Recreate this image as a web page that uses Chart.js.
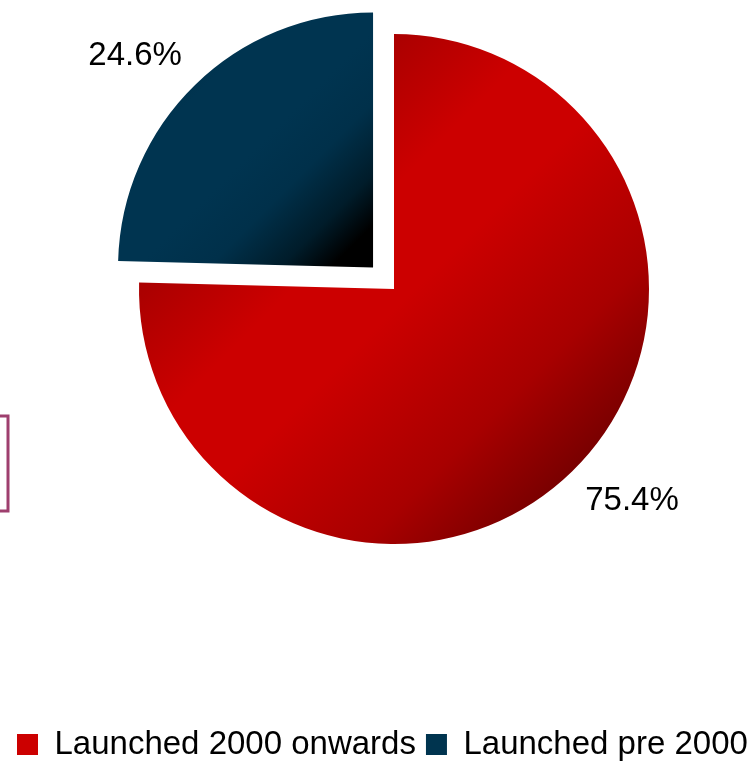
<!DOCTYPE html>
<html>
<head>
<meta charset="utf-8">
<title>Launch period share</title>
<script src="https://cdn.jsdelivr.net/npm/chart.js@4/dist/chart.umd.min.js"></script>
<style>
    html, body { margin: 0; padding: 0; background: #fff; overflow: hidden; }
    body { width: 754px; height: 762px; position: relative; }
    #shareChart { position: absolute; left: 0; top: -140px; }
</style>
</head>
<body>
<canvas id="shareChart" width="781" height="911"></canvas>
<script>
// Categories and their share of the total (%)
const categories = ['Launched 2000 onwards', 'Launched pre 2000'];
const shares = [75.4, 24.6];
// How far each slice is pulled out of the pie
const sliceOffsets = [0, 120];

const pieRadius = 255;
const fontFamily = "'Liberation Sans', Arial, sans-serif";

// Shading for each slice, laid along the diagonal of the slice's own box
const sliceStops = [
    [[0, '#900000'], [0.25, '#aa0000'], [0.4, '#cc0000'], [0.52, '#cc0000'], [0.72, '#a80000'], [0.88, '#700000'], [1, '#500000']],
    [[0, '#00263a'], [0.4, '#003450'], [0.62, '#003450'], [0.76, '#00304a'], [0.9, '#001c2a'], [1, '#000000']]
];
const legendColors = ['#cc0000', '#00344f'];

function sum(list) {
    return list.reduce((a, b) => a + b, 0);
}

// Bounding box of one slice, taking the pull-out into account
function sliceBounds(chart, index) {
    const area = chart.chartArea;
    const cx = (area.left + area.right) / 2;
    const cy = (area.top + area.bottom) / 2;
    const total = sum(shares);
    const start = -Math.PI / 2 + 2 * Math.PI * sum(shares.slice(0, index)) / total;
    const end = start + 2 * Math.PI * shares[index] / total;
    const mid = (start + end) / 2;
    const shift = sliceOffsets[index] / 4;
    const ox = cx + Math.cos(mid) * shift;
    const oy = cy + Math.sin(mid) * shift;
    const xs = [ox], ys = [oy];
    const add = a => {
        xs.push(ox + Math.cos(a) * pieRadius);
        ys.push(oy + Math.sin(a) * pieRadius);
    };
    add(start);
    add(end);
    for (let k = Math.ceil(start / (Math.PI / 2)); k * Math.PI / 2 <= end; k++) {
        add(k * Math.PI / 2);
    }
    return {x0: Math.min(...xs), y0: Math.min(...ys), x1: Math.max(...xs), y1: Math.max(...ys)};
}

function sliceFill(context) {
    const chart = context.chart;
    const i = context.dataIndex;
    if (!chart.chartArea || i === undefined) {
        return legendColors[i] || legendColors[0];
    }
    const b = sliceBounds(chart, i);
    const g = chart.ctx.createLinearGradient(b.x0, b.y0, b.x1, b.y1);
    sliceStops[i].forEach(([pos, color]) => g.addColorStop(pos, color));
    return g;
}

// Percentage text outside each slice
const sliceLabels = {
    id: 'sliceLabels',
    afterDatasetsDraw(chart) {
        const ctx = chart.ctx;
        const meta = chart.getDatasetMeta(0);
        ctx.save();
        ctx.font = '33px ' + fontFamily;
        ctx.fillStyle = '#000';
        ctx.textAlign = 'center';
        ctx.textBaseline = 'middle';
        meta.data.forEach((arc, i) => {
            const p = arc.getProps(['x', 'y', 'startAngle', 'endAngle', 'outerRadius'], true);
            const mid = (p.startAngle + p.endAngle) / 2;
            const shift = (arc.options.offset || 0) / 4;
            const cx = p.x + Math.cos(mid) * shift;
            const cy = p.y + Math.sin(mid) * shift;
            const a = mid - 0.07;
            const r = p.outerRadius * 1.25;
            ctx.fillText(shares[i].toFixed(1) + '%', cx + Math.cos(a) * r, cy + Math.sin(a) * r);
        });
        ctx.restore();
    }
};

// Edge of a framed box sitting at the left border
const sideFrame = {
    id: 'sideFrame',
    afterDraw(chart) {
        const ctx = chart.ctx;
        ctx.save();
        ctx.strokeStyle = '#9e3f6e';
        ctx.lineWidth = 3;
        ctx.strokeRect(-10, 556, 18, 95);
        ctx.restore();
    }
};

const shareChart = new Chart(
    document.getElementById('shareChart'),
    {
        type: 'pie',
        data: {
            labels: categories,
            datasets: [{
                data: shares,
                backgroundColor: sliceFill,
                borderWidth: 0,
                offset: sliceOffsets
            }]
        },
        options: {
            responsive: false,
            animation: false,
            radius: pieRadius,
            layout: {
                padding: {left: 7}
            },
            plugins: {
                legend: {
                    position: 'bottom',
                    align: 'start',
                    labels: {
                        boxWidth: 21,
                        boxHeight: 21,
                        padding: 10,
                        color: '#000',
                        font: {family: fontFamily, size: 33},
                        generateLabels(chart) {
                            const items = Chart.overrides.doughnut.plugins.legend.labels.generateLabels(chart);
                            items.forEach((item, i) => {
                                item.fillStyle = legendColors[i];
                                item.strokeStyle = legendColors[i];
                                item.lineWidth = 0;
                            });
                            return items;
                        }
                    }
                },
                tooltip: {enabled: false}
            }
        },
        plugins: [sliceLabels, sideFrame]
    }
);
</script>
</body>
</html>
